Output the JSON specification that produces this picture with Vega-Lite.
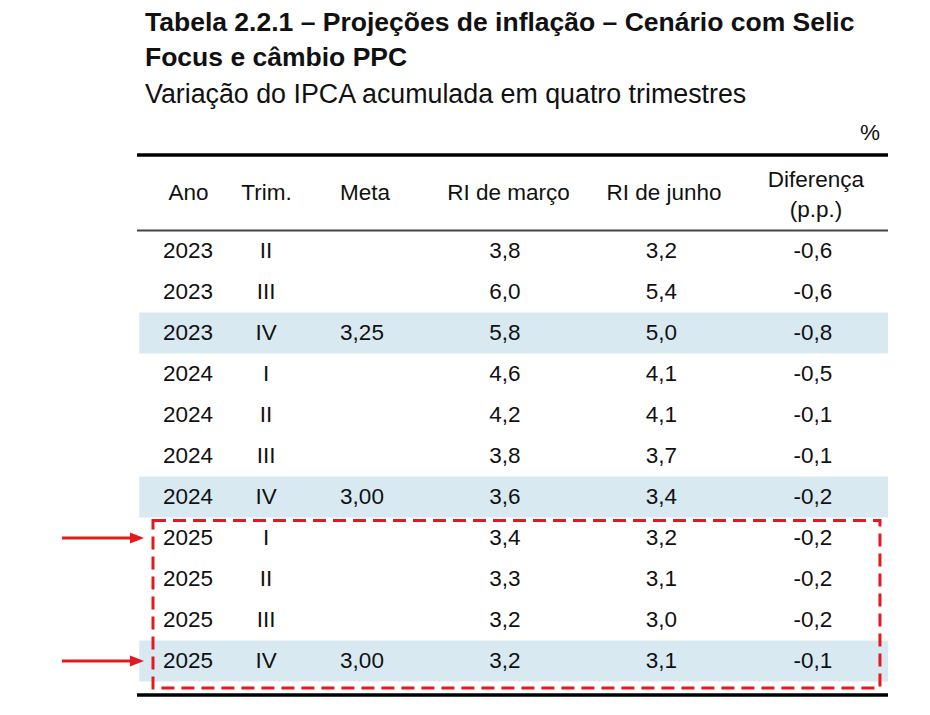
{
  "$schema": "https://vega.github.io/schema/vega-lite/v6.json",
  "width": 930,
  "height": 565,
  "autosize": {"type": "none"},
  "padding": {"left": 0, "top": 150, "right": 0, "bottom": 0},
  "background": "white",
  "config": {
    "view": {"stroke": null},
    "font": "Liberation Sans",
    "locale": {"number": {"decimal": ",", "thousands": ".", "grouping": [3], "currency": ["R$ ", ""], "minus": "-"}},
    "text": {"font": "Liberation Sans", "fontSize": 22.5, "color": "#111111"}
  },
  "title": {
    "text": ["Tabela 2.2.1 – Projeções de inflação – Cenário com Selic", "Focus e câmbio PPC"],
    "subtitle": "Variação do IPCA acumulada em quatro trimestres",
    "anchor": "start",
    "frame": "group",
    "dx": 145,
    "offset": 13,
    "font": "Liberation Sans",
    "fontSize": 26.5,
    "fontWeight": "bold",
    "lineHeight": 35,
    "color": "#111111",
    "subtitleFont": "Liberation Sans",
    "subtitleFontSize": 26.8,
    "subtitleColor": "#111111",
    "subtitlePadding": 11
  },
  "data": {
    "values": [
      {"linha": "2023 II", "Ano": "2023", "Trim": "II", "Meta": null, "RI_marco": 3.8, "RI_junho": 3.2, "Diferenca": -0.6},
      {"linha": "2023 III", "Ano": "2023", "Trim": "III", "Meta": null, "RI_marco": 6.0, "RI_junho": 5.4, "Diferenca": -0.6},
      {"linha": "2023 IV", "Ano": "2023", "Trim": "IV", "Meta": 3.25, "RI_marco": 5.8, "RI_junho": 5.0, "Diferenca": -0.8},
      {"linha": "2024 I", "Ano": "2024", "Trim": "I", "Meta": null, "RI_marco": 4.6, "RI_junho": 4.1, "Diferenca": -0.5},
      {"linha": "2024 II", "Ano": "2024", "Trim": "II", "Meta": null, "RI_marco": 4.2, "RI_junho": 4.1, "Diferenca": -0.1},
      {"linha": "2024 III", "Ano": "2024", "Trim": "III", "Meta": null, "RI_marco": 3.8, "RI_junho": 3.7, "Diferenca": -0.1},
      {"linha": "2024 IV", "Ano": "2024", "Trim": "IV", "Meta": 3.00, "RI_marco": 3.6, "RI_junho": 3.4, "Diferenca": -0.2},
      {"linha": "2025 I", "Ano": "2025", "Trim": "I", "Meta": null, "RI_marco": 3.4, "RI_junho": 3.2, "Diferenca": -0.2},
      {"linha": "2025 II", "Ano": "2025", "Trim": "II", "Meta": null, "RI_marco": 3.3, "RI_junho": 3.1, "Diferenca": -0.2},
      {"linha": "2025 III", "Ano": "2025", "Trim": "III", "Meta": null, "RI_marco": 3.2, "RI_junho": 3.0, "Diferenca": -0.2},
      {"linha": "2025 IV", "Ano": "2025", "Trim": "IV", "Meta": 3.00, "RI_marco": 3.2, "RI_junho": 3.1, "Diferenca": -0.1}
    ]
  },
  "layer": [
    {
      "transform": [{"filter": "isValid(datum.Meta)"}],
      "mark": {"type": "rect", "color": "#d9e9f2"},
      "encoding": {
        "y": {"field": "linha", "type": "ordinal", "axis": null,
              "scale": {"domain": ["2023 II", "2023 III", "2023 IV", "2024 I", "2024 II", "2024 III", "2024 IV", "2025 I", "2025 II", "2025 III", "2025 IV"],
                        "range": [80.5, 531.5], "paddingInner": 0, "paddingOuter": 0}},
        "x": {"datum": 0.003, "type": "quantitative", "axis": null, "scale": {"domain": [0, 1], "range": [137, 888]}},
        "x2": {"datum": 1}
      }
    },
    {
      "data": {"values": [{}]},
      "mark": {"type": "rule", "color": "#000000", "strokeWidth": 3.5, "yOffset": -96},
      "encoding": {"y": {"datum": "2023 II", "type": "ordinal"}, "x": {"datum": 0, "type": "quantitative"}, "x2": {"datum": 1}}
    },
    {
      "data": {"values": [{}]},
      "mark": {"type": "rule", "color": "#444444", "strokeWidth": 1.8, "yOffset": -20.5},
      "encoding": {"y": {"datum": "2023 II", "type": "ordinal"}, "x": {"datum": 0, "type": "quantitative"}, "x2": {"datum": 1}}
    },
    {
      "data": {"values": [{}]},
      "mark": {"type": "rule", "color": "#000000", "strokeWidth": 3.5, "yOffset": 34},
      "encoding": {"y": {"datum": "2025 IV", "type": "ordinal"}, "x": {"datum": 0, "type": "quantitative"}, "x2": {"datum": 1}}
    },
    {
      "data": {"values": [{}]},
      "mark": {"type": "rect", "filled": false, "stroke": "#e3191f", "strokeWidth": 3, "strokeDash": [13, 7], "yOffset": -17.5, "y2Offset": 27},
      "encoding": {"y": {"datum": "2025 I", "type": "ordinal"}, "y2": {"datum": "2025 IV"}, "x": {"datum": 0.0213, "type": "quantitative"}, "x2": {"datum": 0.9893}}
    },
    {
      "transform": [{"filter": {"field": "linha", "oneOf": ["2025 I", "2025 IV"]}}],
      "mark": {"type": "rule", "color": "#e3191f", "strokeWidth": 3},
      "encoding": {"y": {"field": "linha", "type": "ordinal"}, "x": {"datum": -0.0999, "type": "quantitative"}, "x2": {"datum": -0.006}}
    },
    {
      "transform": [{"filter": {"field": "linha", "oneOf": ["2025 I", "2025 IV"]}}],
      "mark": {"type": "point", "shape": "M-1,-0.8L1,0L-1,0.8Z", "size": 196, "filled": true, "color": "#e3191f", "opacity": 1, "strokeWidth": 0},
      "encoding": {"y": {"field": "linha", "type": "ordinal"}, "x": {"datum": 0.0, "type": "quantitative"}}
    },
    {
      "mark": {"type": "text"},
      "encoding": {"y": {"field": "linha", "type": "ordinal"}, "x": {"datum": 0.0679, "type": "quantitative"}, "text": {"field": "Ano"}}
    },
    {
      "mark": {"type": "text"},
      "encoding": {"y": {"field": "linha", "type": "ordinal"}, "x": {"datum": 0.1718, "type": "quantitative"}, "text": {"field": "Trim"}}
    },
    {
      "transform": [{"filter": "isValid(datum.Meta)"}],
      "mark": {"type": "text"},
      "encoding": {"y": {"field": "linha", "type": "ordinal"}, "x": {"datum": 0.2996, "type": "quantitative"}, "text": {"field": "Meta", "type": "quantitative", "format": ".2f"}}
    },
    {
      "mark": {"type": "text"},
      "encoding": {"y": {"field": "linha", "type": "ordinal"}, "x": {"datum": 0.49, "type": "quantitative"}, "text": {"field": "RI_marco", "type": "quantitative", "format": ".1f"}}
    },
    {
      "mark": {"type": "text"},
      "encoding": {"y": {"field": "linha", "type": "ordinal"}, "x": {"datum": 0.6984, "type": "quantitative"}, "text": {"field": "RI_junho", "type": "quantitative", "format": ".1f"}}
    },
    {
      "mark": {"type": "text"},
      "encoding": {"y": {"field": "linha", "type": "ordinal"}, "x": {"datum": 0.9001, "type": "quantitative"}, "text": {"field": "Diferenca", "type": "quantitative", "format": ".1f"}}
    },
    {
      "data": {"values": [{}]},
      "mark": {"type": "text", "text": "Ano", "dy": -58},
      "encoding": {"y": {"datum": "2023 II", "type": "ordinal"}, "x": {"datum": 0.0686, "type": "quantitative"}}
    },
    {
      "data": {"values": [{}]},
      "mark": {"type": "text", "text": "Trim.", "dy": -58},
      "encoding": {"y": {"datum": "2023 II", "type": "ordinal"}, "x": {"datum": 0.1725, "type": "quantitative"}}
    },
    {
      "data": {"values": [{}]},
      "mark": {"type": "text", "text": "Meta", "dy": -58},
      "encoding": {"y": {"datum": "2023 II", "type": "ordinal"}, "x": {"datum": 0.3036, "type": "quantitative"}}
    },
    {
      "data": {"values": [{}]},
      "mark": {"type": "text", "text": "RI de março", "dy": -58},
      "encoding": {"y": {"datum": "2023 II", "type": "ordinal"}, "x": {"datum": 0.4947, "type": "quantitative"}}
    },
    {
      "data": {"values": [{}]},
      "mark": {"type": "text", "text": "RI de junho", "dy": -58},
      "encoding": {"y": {"datum": "2023 II", "type": "ordinal"}, "x": {"datum": 0.7017, "type": "quantitative"}}
    },
    {
      "data": {"values": [{}]},
      "mark": {"type": "text", "text": ["Diferença", "(p.p.)"], "lineHeight": 30, "dy": -71},
      "encoding": {"y": {"datum": "2023 II", "type": "ordinal"}, "x": {"datum": 0.904, "type": "quantitative"}}
    },
    {
      "data": {"values": [{}]},
      "mark": {"type": "text", "text": "%", "align": "right", "dy": -118},
      "encoding": {"y": {"datum": "2023 II", "type": "ordinal"}, "x": {"datum": 0.9893, "type": "quantitative"}}
    }
  ]
}
